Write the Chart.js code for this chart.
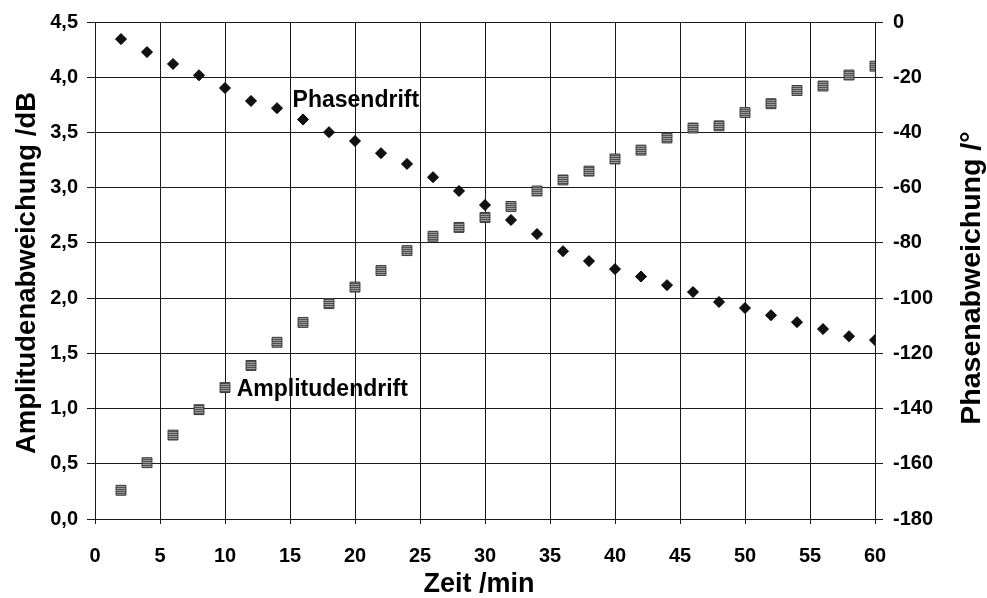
<!DOCTYPE html>
<html>
<head>
<meta charset="utf-8">
<script src="https://cdn.jsdelivr.net/npm/chart.js@4.4.1/dist/chart.umd.min.js"></script>
<style>
  html, body { margin: 0; padding: 0; background: #fff; }
  #c { display: block; }
</style>
</head>
<body>
<canvas id="c" width="987" height="598"></canvas>
<script>
// ---- data ----
const times = [2, 4, 6, 8, 10, 12, 14, 16, 18, 20, 22, 24, 26, 28, 30, 32, 34, 36, 38, 40, 42, 44, 46, 48, 50, 52, 54, 56, 58, 60];
const amplitudeDrift = [0.26, 0.51, 0.76, 0.99, 1.19, 1.39, 1.60, 1.78, 1.95, 2.10, 2.25, 2.43, 2.56, 2.64, 2.73, 2.83, 2.97, 3.07, 3.15, 3.26, 3.34, 3.45, 3.54, 3.56, 3.68, 3.76, 3.88, 3.92, 4.02, 4.10];
const phaseDrift = [-6.2, -10.9, -15.2, -19.3, -23.9, -28.6, -31.2, -35.3, -39.9, -43.1, -47.5, -51.4, -56.2, -61.2, -66.3, -71.7, -76.8, -83.0, -86.6, -89.5, -92.2, -95.3, -97.8, -101.4, -103.6, -106.2, -108.7, -111.2, -113.8, -115.2];
const xTicks = [0, 5, 10, 15, 20, 25, 30, 35, 40, 45, 50, 55, 60];
const ampTicks = ['0,0', '0,5', '1,0', '1,5', '2,0', '2,5', '3,0', '3,5', '4,0', '4,5'];
const phaseTicks = ['-180', '-160', '-140', '-120', '-100', '-80', '-60', '-40', '-20', '0'];
const seriesNames = ['Amplitudendrift', 'Phasendrift'];
const axisTitles = { x: 'Zeit /min', yLeft: 'Amplitudenabweichung /dB', yRight: 'Phasenabweichung /°' };

// ---- styling ----
const FONT = "'Liberation Sans', Arial, Helvetica, sans-serif";
const INK = '#1a1a1a';

function stripePattern() {
  const p = document.createElement('canvas');
  p.width = 2; p.height = 2;
  const g = p.getContext('2d');
  g.fillStyle = '#9a9a9a'; g.fillRect(0, 0, 2, 1);
  g.fillStyle = '#505050'; g.fillRect(0, 1, 2, 1);
  return document.getElementById('c').getContext('2d').createPattern(p, 'repeat');
}

const ampPoints = times.map((t, i) => ({ x: t, y: amplitudeDrift[i] }));
const phasePoints = times.map((t, i) => ({ x: t, y: phaseDrift[i] }));

const labelPlugin = {
  id: 'labels',
  afterDraw(chart) {
    const ctx = chart.ctx;
    const xs = chart.scales.x, yl = chart.scales.y, yr = chart.scales.y2;
    ctx.save();
    ctx.fillStyle = '#000';
    // series labels
    ctx.font = 'bold 23px ' + FONT;
    ctx.textAlign = 'left';
    ctx.textBaseline = 'middle';
    ctx.fillText(seriesNames[1], xs.getPixelForValue(15.2), yr.getPixelForValue(-28.6));
    ctx.fillText(seriesNames[0], xs.getPixelForValue(10.9), yl.getPixelForValue(1.17));
    // axis titles
    ctx.textAlign = 'center';
    ctx.font = 'bold 27.5px ' + FONT;
    ctx.save();
    ctx.translate(27, 273);
    ctx.rotate(-Math.PI / 2);
    ctx.fillText(axisTitles.yLeft, 0, 0);
    ctx.restore();
    ctx.font = 'bold 28.5px ' + FONT;
    ctx.save();
    ctx.translate(972, 278);
    ctx.rotate(-Math.PI / 2);
    ctx.fillText(axisTitles.yRight, 0, 0);
    ctx.restore();
    ctx.font = 'bold 27px ' + FONT;
    ctx.fillText(axisTitles.x, 479, 585);
    ctx.restore();
  }
};

const tickFont = { family: FONT, size: 20, weight: 'bold' };

new Chart(document.getElementById('c'), {
  type: 'scatter',
  data: {
    datasets: [
      {
        label: seriesNames[0],
        data: ampPoints,
        yAxisID: 'y',
        pointStyle: 'rect',
        pointRadius: 7,
        backgroundColor: stripePattern(),
        borderColor: '#3a3a3a',
        borderWidth: 1
      },
      {
        label: seriesNames[1],
        data: phasePoints,
        yAxisID: 'y2',
        pointStyle: 'rectRot',
        pointRadius: 5.5,
        backgroundColor: '#111',
        borderColor: '#000',
        borderWidth: 1
      }
    ]
  },
  options: {
    responsive: false,
    animation: false,
    layout: { padding: { top: 22, left: 0, right: 0, bottom: 0 } },
    plugins: { legend: { display: false }, tooltip: { enabled: false } },
    scales: {
      x: {
        type: 'linear', position: 'bottom', min: 0, max: 60,
        afterBuildTicks(s) { s.ticks = xTicks.map(v => ({ value: v })); },
        afterFit(s) { s.height = 79; },
        ticks: { font: tickFont, color: '#000', padding: 20, maxRotation: 0, autoSkip: false,
                 callback: (v) => String(v) },
        grid: { color: INK, lineWidth: 1, tickLength: 5, drawTicks: true },
        border: { color: INK, width: 1 }
      },
      y: {
        type: 'linear', position: 'left', min: 0, max: 4.5,
        afterBuildTicks(s) { s.ticks = ampTicks.map((t, i) => ({ value: i * 0.5 })); },
        afterFit(s) { s.width = 95; },
        ticks: { font: tickFont, color: '#000', padding: 9, autoSkip: false,
                 callback: (v) => ampTicks[Math.round(v / 0.5)] },
        grid: { color: INK, lineWidth: 1, tickLength: 8 },
        border: { color: INK, width: 1 }
      },
      y2: {
        type: 'linear', position: 'right', min: -180, max: 0,
        afterBuildTicks(s) { s.ticks = phaseTicks.map(t => ({ value: Number(t) })); },
        afterFit(s) { s.width = 112; },
        ticks: { font: tickFont, color: '#000', padding: 10, autoSkip: false,
                 callback: (v) => String(v) },
        grid: { color: INK, lineWidth: 1, tickLength: 8, drawOnChartArea: false },
        border: { display: false }
      }
    }
  },
  plugins: [labelPlugin]
});
</script>
</body>
</html>
